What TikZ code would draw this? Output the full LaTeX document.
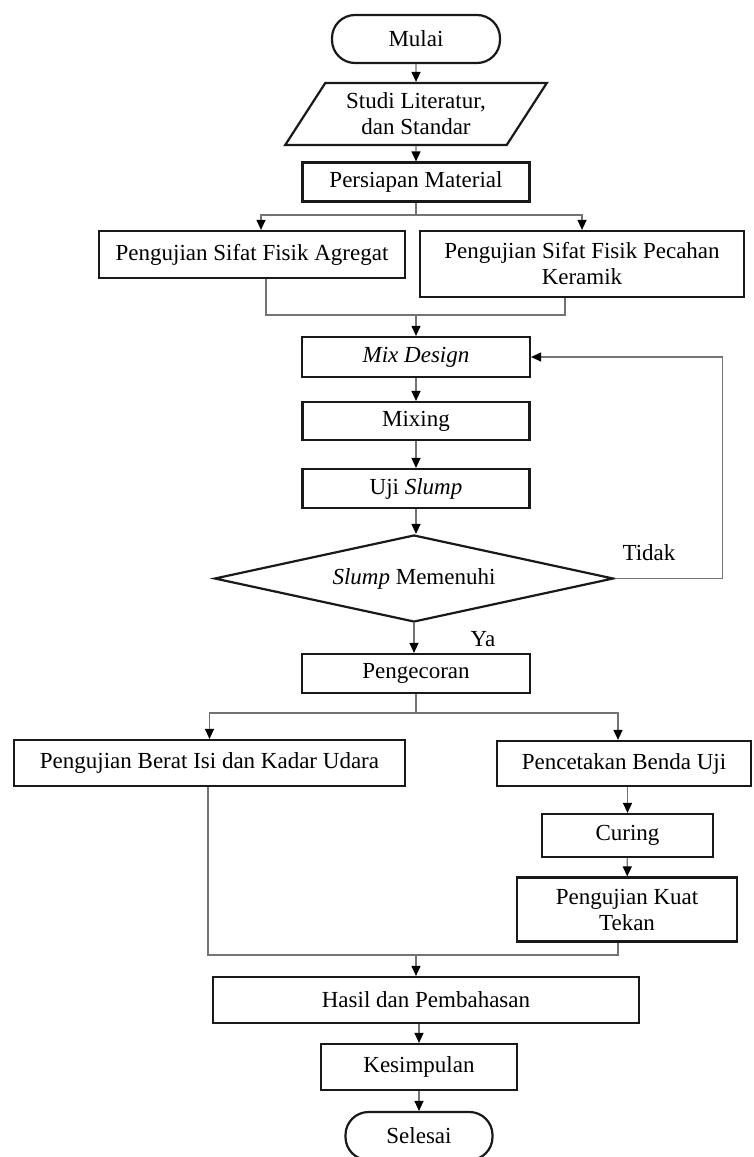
\documentclass[tikz,border=0pt]{standalone}
\usepackage{fontspec}
\setmainfont{Liberation Serif}
\usetikzlibrary{shapes.geometric,arrows.meta}

\begin{document}
\begin{tikzpicture}[x=0.5pt,y=-0.5pt,font=\fontsize{11.5}{13}\selectfont,
  box/.style={draw=black!90,line width=1.1pt,inner sep=2pt,align=center},
  term/.style={box,rounded corners=11.5pt},
  ln/.style={draw=black!55,line width=0.6pt},
  arr/.style={ln,-{Triangle[length=5pt,width=4.5pt,color=black]}}]
\fill[white](0,0)rectangle(754,1157);
\useasboundingbox(0,0)rectangle(754,1157);
\node[term,minimum width=84pt,minimum height=24pt](mulai)at(416,39){Mulai};
\node[box,trapezium,trapezium left angle=57,trapezium right angle=123,trapezium stretches=true,minimum width=131pt,minimum height=31pt](studi)at(416,114){Studi Literatur,\\dan Standar};
\node[box,minimum width=113.5pt,minimum height=19.5pt](persiapan)at(416,182){Persiapan Material};
\node[box,minimum width=153pt,minimum height=23.5pt](agregat)at(252,254.5){Pengujian Sifat Fisik Agregat};
\node[box,minimum width=162pt,minimum height=33pt](keramik)at(582,264){Pengujian Sifat Fisik Pecahan\\Keramik};
\node[box,minimum width=114pt,minimum height=20pt](mix)at(416,357){\textit{Mix Design}};
\node[box,minimum width=113.5pt,minimum height=19pt](mixing)at(416,421){Mixing};
\node[box,minimum width=113.5pt,minimum height=19.5pt](uji)at(416,488.5){Uji \textit{Slump}};
\node[box,diamond,aspect=4.5,inner sep=0pt,minimum width=199.5pt,minimum height=43.5pt](cek)at(414,578.5){\textit{Slump} Memenuhi};
\node[box,minimum width=114pt,minimum height=19.5pt](pengecoran)at(416,673.5){Pengecoran};
\node[box,minimum width=195.5pt,minimum height=23pt](berat)at(209.5,763){Pengujian Berat Isi dan Kadar Udara};
\node[box,minimum width=127pt,minimum height=22.5pt](cetak)at(624,763.5){Pencetakan Benda Uji};
\node[box,minimum width=85.5pt,minimum height=21.5pt](curing)at(627.5,835.5){Curing};
\node[box,minimum width=110pt,minimum height=32pt](kuat)at(627,909.5){Pengujian Kuat\\Tekan};
\node[box,minimum width=213pt,minimum height=23pt](hasil)at(426,1000){Hasil dan Pembahasan};
\node[box,minimum width=98pt,minimum height=23pt](kesimpulan)at(419,1067){Kesimpulan};
\node[term,minimum width=73.5pt,minimum height=24pt](selesai)at(419,1136){Selesai};
\node(tidak)at(649,553){Tidak};
\node(ya)at(483,639){Ya};
\coordinate(s1)at(416,215);
\coordinate(m1)at(416,315);
\coordinate(s2)at(416,713);
\coordinate(m2)at(416,955);
\draw[arr](mulai)--(studi);
\draw[arr](studi)--(persiapan);
\draw[ln](persiapan)--(s1);
\draw[arr](s1)-|([xshift=4.5pt]agregat.north);
\draw[arr](s1)-|(keramik.north);
\draw[ln]([xshift=7pt]agregat.south)|-(m1);
\draw[ln]([xshift=-8.5pt]keramik.south)|-(m1);
\draw[arr](m1)--(mix);
\draw[arr](mix)--(mixing);
\draw[arr](mixing)--(uji);
\draw[arr](uji.south)--(uji.south|-cek.north);
\draw[arr](cek.south)--(cek.south|-pengecoran.north);
\draw[arr](cek.east)--++(108,0)|-(mix.east);
\draw[ln](pengecoran)--(s2);
\draw[arr](s2)-|(berat.north);
\draw[arr](s2)-|([xshift=-3pt]cetak.north);
\draw[arr](cetak.south-|curing)--(curing);
\draw[arr](curing)--(kuat);
\draw[ln]([xshift=-0.75pt]berat.south)|-(m2);
\draw[ln]([xshift=-4.5pt]kuat.south)|-(m2);
\draw[arr](m2)--(m2|-hasil.north);
\draw[arr](hasil.south-|kesimpulan)--(kesimpulan);
\draw[arr](kesimpulan)--(selesai);
\end{tikzpicture}
\end{document}
